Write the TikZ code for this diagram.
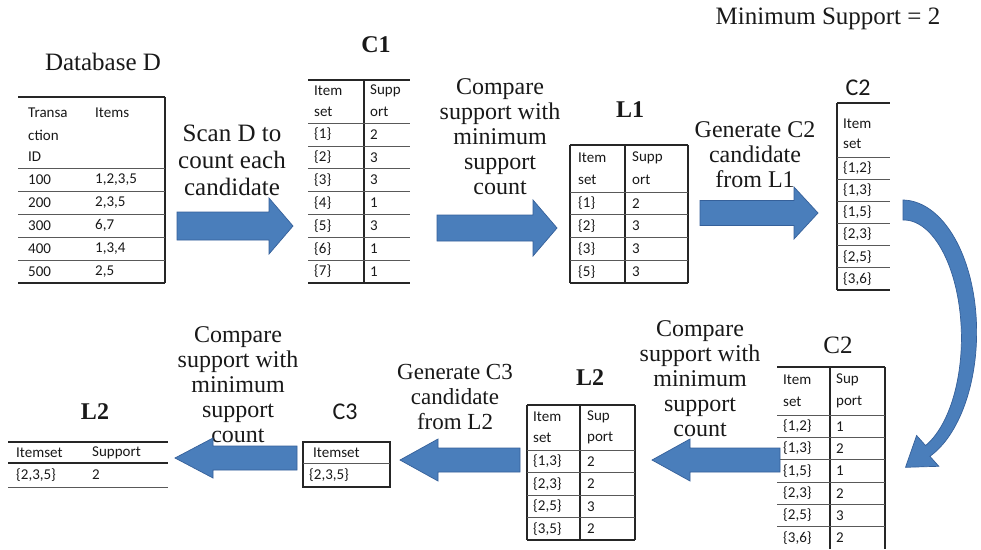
\documentclass[tikz,border=0pt]{standalone}
\usepackage{fontspec}
\setmainfont{Liberation Serif}
\newfontfamily\cellfont{Carlito}
\usetikzlibrary{calc}
\definecolor{arrowfill}{HTML}{4A7EBB}
\definecolor{arrowline}{HTML}{35609A}
\newcommand\iset[1]{\{#1\}}

\begin{document}
\begin{tikzpicture}[x=1pt,y=-1pt,
  cell/.style={font=\cellfont\fontsize{15}{17}\selectfont, anchor=west, inner sep=0pt, text=black!90},
  lbl/.style={font=\fontsize{24}{25}\selectfont, align=center, inner sep=0pt, text=black!90},
  ttl/.style={font=\fontsize{25}{28}\selectfont, inner sep=0pt, text=black!90},
  sttl/.style={font=\cellfont\fontsize{24}{28}\selectfont, inner sep=0pt, text=black!90},
  bttl/.style={font=\bfseries\fontsize{24}{28}\selectfont, inner sep=0pt, text=black!90},
  rowline/.style={draw=black!65, line width=0.8pt},
  edgeline/.style={draw=black!85, line width=1.3pt},
  ashaft/.code={\def\ashaft{#1}},
  ahead/.code={\def\ahead{#1}},
  alen/.code={\def\alen{#1}},
  ashaft=13, ahead=27, alen=24,
  blockarrow/.style={fill=arrowfill, draw=arrowline, line width=0.7pt, line join=miter,
    to path={($(\tikztostart)+(0,\ashaft)$)
      -- ($(\tikztotarget)!\alen pt!(\tikztostart)+(0,\ashaft)$)
      -- ($(\tikztotarget)!\alen pt!(\tikztostart)+(0,\ahead)$)
      -- (\tikztotarget)
      -- ($(\tikztotarget)!\alen pt!(\tikztostart)+(0,-\ahead)$)
      -- ($(\tikztotarget)!\alen pt!(\tikztostart)+(0,-\ashaft)$)
      -- ($(\tikztostart)+(0,-\ashaft)$) -- cycle}}
]
\useasboundingbox (0,0) rectangle (981,549);
\fill[white] (0,0) rectangle (981,549);

% ---------- heading ----------
\node[ttl] (minsup) at (828,19) {Minimum Support = 2};

% ---------- Database D ----------
\node[ttl] (dbtitle) at (103,62) {Database D};
\draw[edgeline] (18,97) -- (165,97);
\draw[edgeline] (18,283) -- (165,283);
\draw[edgeline] (165,97) -- (165,283);
\foreach \y in {168,191,214,237,260} \draw[rowline] (18,\y) -- (165,\y);
\node[cell] (dbh1) at (28,113) {Transa};
\node[cell] (dbh2) at (28,135) {ction};
\node[cell] (dbh3) at (28,157) {ID};
\node[cell] (dbh4) at (95,113) {Items};
\foreach \t/\v [count=\i] in {100/{1,2,3,5},200/{2,3,5},300/{6,7},400/{1,3,4},500/{2,5}} {
  \node[cell] (dbt\i) at (28,{168+23*(\i-0.5)}) {\t};
  \node[cell] (dbv\i) at (95,{168+23*(\i-0.5)}) {\v};
}

% ---------- C1 ----------
\node[bttl] (c1title) at (376,45) {C1};
\draw[edgeline] (308,80) -- (410,80);
\draw[edgeline] (308,283) -- (410,283);
\draw[edgeline] (364,80) -- (364,283);
\foreach \y in {123,145.9,168.7,191.6,214.4,237.3,260.1} \draw[rowline] (308,\y) -- (410,\y);
\node[cell] (c1h1) at (314,91) {Item};
\node[cell] (c1h2) at (314,112) {set};
\node[cell] (c1h3) at (370,91) {Supp};
\node[cell] (c1h4) at (370,112) {ort};
\foreach \s/\v [count=\i] in {1/2,2/3,3/3,4/1,5/3,6/1,7/1} {
  \node[cell] (c1s\i) at (314,{123+22.86*(\i-0.5)}) {\iset{\s}};
  \node[cell] (c1v\i) at (370,{123+22.86*(\i-0.5)}) {\v};
}

% ---------- L1 ----------
\node[bttl] (l1title) at (630,110) {L1};
\draw[edgeline] (570,145) -- (688,145);
\draw[edgeline] (570,283) -- (688,283);
\foreach \x in {570,625,688} \draw[edgeline] (\x,145) -- (\x,283);
\foreach \y in {192,214.75,237.5,260.25} \draw[rowline] (570,\y) -- (688,\y);
\node[cell] (l1h1) at (578,158) {Item};
\node[cell] (l1h2) at (578,180) {set};
\node[cell] (l1h3) at (632,158) {Supp};
\node[cell] (l1h4) at (632,180) {ort};
\foreach \s/\v [count=\i] in {1/2,2/3,3/3,5/3} {
  \node[cell] (l1s\i) at (578,{192+22.75*(\i-0.5)}) {\iset{\s}};
  \node[cell] (l1v\i) at (632,{192+22.75*(\i-0.5)}) {\v};
}

% ---------- C2 (candidates) ----------
\node[sttl] (c2atitle) at (858,88) {C2};
\draw[edgeline] (837,103) -- (890,103);
\draw[edgeline] (837,290) -- (890,290);
\draw[edgeline] (837,103) -- (837,290);
\foreach \y in {157,179.2,201.3,223.5,245.7,267.8} \draw[rowline] (837,\y) -- (890,\y);
\node[cell] (c2ah1) at (843,124) {Item};
\node[cell] (c2ah2) at (843,144) {set};
\foreach \s [count=\i] in {{1,2},{1,3},{1,5},{2,3},{2,5},{3,6}}
  \node[cell] (c2as\i) at (843,{157+22.17*(\i-0.5)}) {\iset{\s}};

% ---------- C2 (with support) ----------
\node[ttl] (c2btitle) at (838,345) {C2};
\draw[edgeline] (777,367) -- (885,367);
\foreach \x in {830,885} \draw[edgeline] (\x,367) -- (\x,549);
\foreach \y in {415,437.3,459.7,482,504.3,526.7} \draw[rowline] (777,\y) -- (885,\y);
\node[cell] (c2bh1) at (783,380) {Item};
\node[cell] (c2bh2) at (783,402) {set};
\node[cell] (c2bh3) at (836,380) {Sup};
\node[cell] (c2bh4) at (836,402) {port};
\foreach \s/\v [count=\i] in {{1,2}/1,{1,3}/2,{1,5}/1,{2,3}/2,{2,5}/3,{3,6}/2} {
  \node[cell] (c2bs\i) at (783,{415+22.33*(\i-0.5)}) {\iset{\s}};
  \node[cell] (c2bv\i) at (836,{415+22.33*(\i-0.5)}) {\v};
}

% ---------- L2 ----------
\node[bttl] (l2atitle) at (590,378) {L2};
\draw[edgeline] (527,405) -- (635,405);
\draw[edgeline] (527,540) -- (635,540);
\foreach \x in {527,580,635} \draw[edgeline] (\x,405) -- (\x,540);
\foreach \y in {450,472.5,495,517.5} \draw[rowline] (527,\y) -- (635,\y);
\node[cell] (l2ah1) at (533,417) {Item};
\node[cell] (l2ah2) at (533,438) {set};
\node[cell] (l2ah3) at (587,417) {Sup};
\node[cell] (l2ah4) at (587,438) {port};
\foreach \s/\v [count=\i] in {{1,3}/2,{2,3}/2,{2,5}/3,{3,5}/2} {
  \node[cell] (l2as\i) at (533,{450+22.5*(\i-0.5)}) {\iset{\s}};
  \node[cell] (l2av\i) at (587,{450+22.5*(\i-0.5)}) {\v};
}

% ---------- C3 ----------
\node[sttl] (c3title) at (345,412) {C3};
\draw[edgeline] (303,442) rectangle (390,487);
\draw[rowline] (303,463) -- (390,463);
\node[cell] (c3h) at (313,453) {Itemset};
\node[cell] (c3s) at (309,475) {\iset{2,3,5}};

% ---------- L2 (final) ----------
\node[bttl] (l2btitle) at (95,412) {L2};
\draw[edgeline] (8,442) -- (168,442);
\draw[edgeline] (8,463) -- (168,463);
\draw[rowline] (8,487) -- (168,487);
\node[cell] (l2bh1) at (16,453) {Itemset};
\node[cell] (l2bh2) at (92,453) {Support};
\node[cell] (l2bs) at (16,475) {\iset{2,3,5}};
\node[cell] (l2bv) at (92,475) {2};

% ---------- step labels ----------
\node[lbl, font=\fontsize{25}{27}\selectfont] (scan) at (232,160) {Scan D to\\count each\\candidate};
\node[lbl] (cmp1) at (500,137) {Compare\\support with\\minimum\\support\\count};
\node[lbl] (gen2) at (755,155) {Generate C2\\candidate\\from L1};
\node[lbl] (cmp2) at (700,379) {Compare\\support with\\minimum\\support\\count};
\node[lbl, font=\fontsize{23}{25}\selectfont] (gen3) at (455,397) {Generate C3\\candidate\\from L2};
\node[lbl] (cmp3) at (238,385) {Compare\\support with\\minimum\\support\\count};

% ---------- block arrows ----------
\coordinate (a1s) at (177,226); \coordinate (a1e) at (293,226);
\coordinate (a2s) at (437,228); \coordinate (a2e) at (557,228);
\coordinate (a3s) at (700,213); \coordinate (a3e) at (818,213);
\coordinate (a4s) at (780,460); \coordinate (a4e) at (652,460);
\coordinate (a5s) at (520,460); \coordinate (a5e) at (400,460);
\coordinate (a6s) at (297,458); \coordinate (a6e) at (175,458);
\path[blockarrow, ashaft=14, ahead=28] (a1s) to (a1e);
\path[blockarrow, ashaft=13, ahead=28] (a2s) to (a2e);
\path[blockarrow, ashaft=12.5, ahead=26] (a3s) to (a3e);
\path[blockarrow, ashaft=12, ahead=21, alen=38] (a4s) to (a4e);
\path[blockarrow, ashaft=12, ahead=21, alen=38] (a5s) to (a5e);
\path[blockarrow, ashaft=12, ahead=20, alen=38] (a6s) to (a6e);

% curved arrow from the first C2 down to the second C2:
% a tapering band along an ellipse, ending in a triangular head
\path[fill=arrowfill, draw=arrowline, line width=0.7pt, line join=miter]
  plot[domain=-90:68, samples=70, smooth]
    ({903+(66+(20-8*(\x+90)/150)/2)*cos(\x)},{335+(125+(20-8*(\x+90)/150)/2)*sin(\x)})
  -- (938.8,466.3) -- (905.5,467.3) -- (916.6,435.5)
  -- plot[domain=68:-90, samples=70, smooth]
    ({903+(66-(20-8*(\x+90)/150)/2)*cos(\x)},{335+(125-(20-8*(\x+90)/150)/2)*sin(\x)})
  -- cycle;
\end{tikzpicture}
\end{document}
